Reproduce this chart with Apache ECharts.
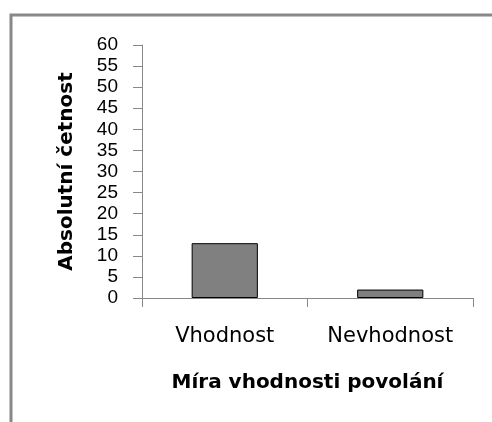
<!DOCTYPE html>
<html>
<head>
<meta charset="utf-8">
<script src="https://cdn.jsdelivr.net/npm/echarts@6/dist/echarts.min.js"></script>
<style>
  html, body { margin: 0; padding: 0; background: #fff; }
  #chart { width: 492px; height: 422px; }
</style>
</head>
<body>
<div id="chart"></div>
<script>
// data
const categories = ['Vhodnost', 'Nevhodnost'];
const values = [13, 2];
const yTicks = { min: 0, max: 60, interval: 5 };

const chart = echarts.init(document.getElementById('chart'));

const option = {
  animation: false,
  backgroundColor: '#ffffff',
  graphic: [
    {
      // outer frame, only top and left edges are visible
      type: 'rect',
      shape: { x: 11, y: 15, width: 700, height: 700 },
      style: { fill: 'none', stroke: '#888888', lineWidth: 3 }
    }
  ],
  grid: {
    left: 142,
    right: 19,
    top: 45,
    bottom: 124
  },
  xAxis: {
    type: 'category',
    data: categories,
    name: 'Míra vhodnosti povolání',
    nameLocation: 'middle',
    nameGap: 75,
    nameTextStyle: {
      fontFamily: 'DejaVu Sans',
      fontWeight: 'bold',
      fontSize: 20,
      color: '#000'
    },
    axisLine: { lineStyle: { color: '#888888', width: 1 } },
    axisTick: { show: true, length: 9, lineStyle: { color: '#888888' } },
    axisLabel: {
      interval: 0,
      margin: 28,
      fontFamily: 'DejaVu Sans',
      fontSize: 21,
      color: '#000'
    }
  },
  yAxis: {
    type: 'value',
    min: yTicks.min,
    max: yTicks.max,
    interval: yTicks.interval,
    name: 'Absolutní četnost',
    nameLocation: 'middle',
    nameGap: 65,
    nameTextStyle: {
      fontFamily: 'DejaVu Sans',
      fontWeight: 'bold',
      fontSize: 20,
      color: '#000'
    },
    axisLine: { show: true, lineStyle: { color: '#888888', width: 1 } },
    axisTick: { show: true, length: 9, lineStyle: { color: '#888888' } },
    axisLabel: {
      margin: 24,
      fontFamily: 'Liberation Sans',
      fontSize: 19,
      color: '#000'
    },
    splitLine: { show: false }
  },
  series: [
    {
      type: 'bar',
      data: values,
      barWidth: '40%',
      itemStyle: {
        color: '#808080',
        borderColor: '#000000',
        borderWidth: 1
      }
    }
  ]
};

chart.setOption(option);
</script>
</body>
</html>
